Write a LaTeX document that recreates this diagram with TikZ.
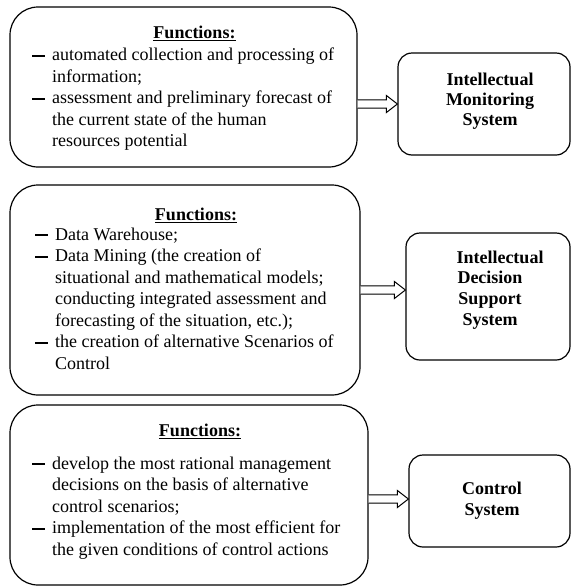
\documentclass[tikz,border=0pt]{standalone}
\usepackage{fontspec}
\setmainfont{Liberation Serif}
\usetikzlibrary{calc,fit}

% list entries: a short bar followed by text, and continuation lines
\newcommand\itm[1]{\hbox{\makebox[20pt][l]{\rule[4pt]{13pt}{2pt}}#1}}
\newcommand\cnt[1]{\hbox{\hspace*{20pt}#1}}
% centred line of a stack
\newcommand\ctr[1]{\hbox to 0pt{\hss#1\hss}}
\newcommand\fntitle{\underline{\textbf{Functions:}}}

\tikzset{
  panel/.style={draw, line width=1.2pt, rounded corners=28pt, inner sep=0pt},
  sysbox/.style={draw, line width=1.2pt, rounded corners=14pt, inner sep=0pt},
  body/.style={inner sep=0pt, font=\fontsize{18}{21.5}\selectfont, anchor=base west},
  heading/.style={inner sep=0pt, font=\fontsize{18}{21.5}\selectfont, anchor=base},
  sysname/.style={inner sep=0pt, font=\fontsize{18}{21}\selectfont\bfseries, anchor=base},
  arrowbody/.style={draw, fill=white, line width=1pt, line join=miter}
}

% hollow block arrow from #1 to #2 (horizontal, at the height of #1)
\newcommand\hollowarrow[2]{%
  \draw[arrowbody] let \p1=(#1), \p2=(#2) in
    (\x1,\y1+4.2) -- (\x2-11,\y1+4.2) -- (\x2-11,\y1+8.5) -- (\x2,\y1)
    -- (\x2-11,\y1-8.5) -- (\x2-11,\y1-4.2) -- (\x1,\y1-4.2);}

\begin{document}
\begin{tikzpicture}[x=1pt,y=-1pt]
\useasboundingbox (0,0) rectangle (571,587);

% ---------- functions panels ----------
\node[panel, fit={(10,7) (357,167)}] (b1) {};
\node[panel, fit={(10,185) (360,395)}] (b2) {};
\node[panel, fit={(10,405) (368,585)}] (b3) {};

% ---------- system boxes ----------
\node[sysbox, fit={(398,53) (570,155)}] (r1) {};
\node[sysbox, fit={(406,233) (570,360)}] (r2) {};
\node[sysbox, fit={(409,455) (570,547)}] (r3) {};

% ---------- panel texts ----------
\node[heading] (h1) at (194.5,38.5) {\fntitle};
\node[body] (t1) at (32,60.5) {\vtop{\baselineskip=21.5pt
  \itm{automated collection and processing of}
  \cnt{information;}
  \itm{assessment and preliminary forecast of}
  \cnt{the current state of the human}
  \cnt{resources potential}}};

\node[heading] (h2) at (196,220.7) {\fntitle};
\node[body] (t2) at (35,240) {\vtop{\baselineskip=21.5pt
  \itm{Data Warehouse;}
  \itm{Data Mining (the creation of}
  \cnt{situational and mathematical models;}
  \cnt{conducting integrated assessment and}
  \cnt{forecasting of the situation, etc.);}
  \itm{the creation of alternative Scenarios of}
  \cnt{Control}}};

\node[heading] (h3) at (200,436.7) {\fntitle};
\node[body] (t3) at (32,469) {\vtop{\baselineskip=21.6pt
  \itm{develop the most rational management}
  \cnt{decisions on the basis of alternative}
  \cnt{control scenarios;}
  \itm{implementation of the most efficient for}
  \cnt{the given conditions of control actions}}};

% ---------- system names ----------
\node[sysname] (n1) at (490,85) {\vtop{\baselineskip=20pt
  \ctr{Intellectual}\ctr{Monitoring}\ctr{System}}};
\node[sysname] (n2) at (490,263) {\vtop{\baselineskip=20.7pt
  \ctr{\hspace*{20pt}Intellectual}\ctr{Decision}\ctr{Support}\ctr{System}}};
\node[sysname] (n3) at (492,494) {\vtop{\baselineskip=21pt
  \ctr{Control}\ctr{System}}};

% ---------- connectors ----------
\coordinate (a1) at (b1.east |- 0,104);
\coordinate (e1) at (r1.west |- 0,104);
\coordinate (a2) at (b2.east |- 0,290);
\coordinate (e2) at (r2.west |- 0,290);
\coordinate (a3) at (b3.east |- 0,499);
\coordinate (e3) at (r3.west |- 0,499);
\hollowarrow{a1}{e1}
\hollowarrow{a2}{e2}
\hollowarrow{a3}{e3}
\end{tikzpicture}
\end{document}
